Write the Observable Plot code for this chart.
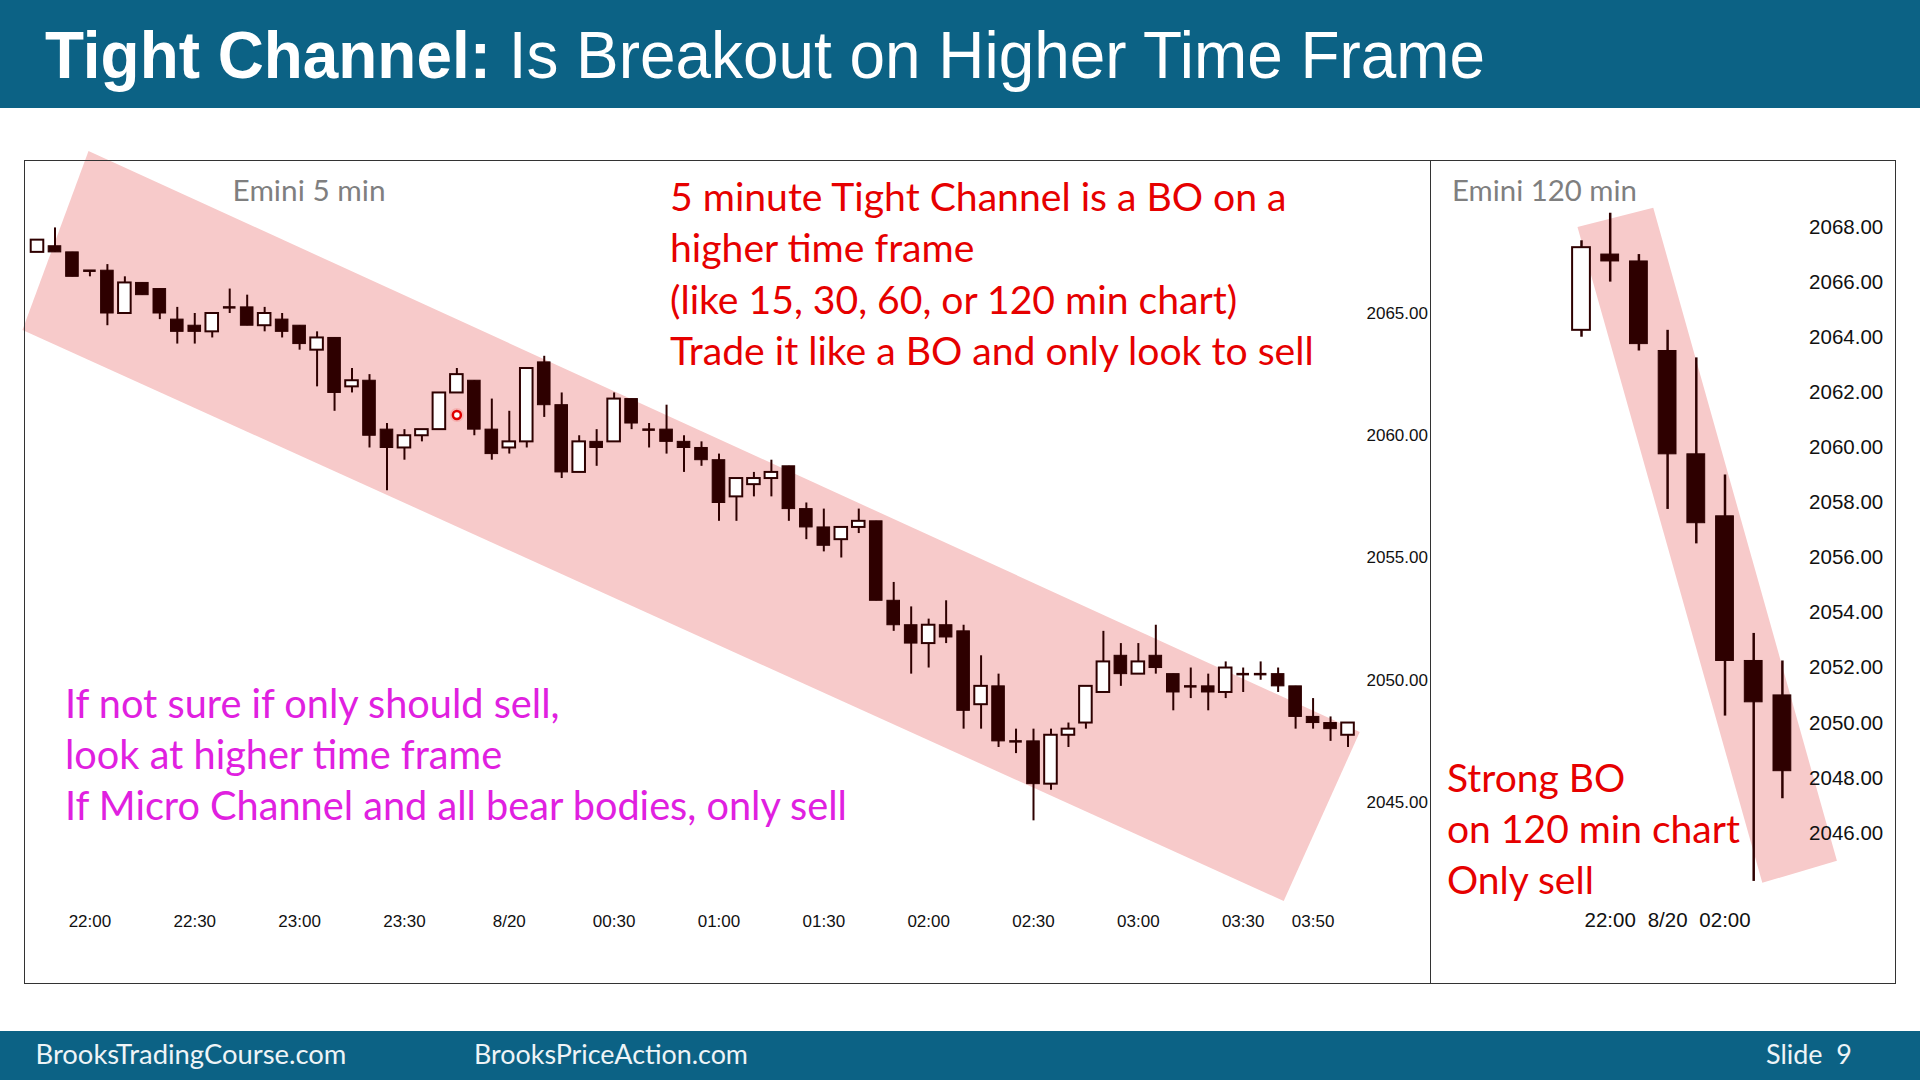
<!DOCTYPE html>
<html>
<head>
<meta charset="utf-8">
<script src="https://cdn.jsdelivr.net/npm/d3@7"></script>
<script src="https://cdn.jsdelivr.net/npm/@observablehq/plot@0.6"></script>
<style>
  html, body { margin:0; padding:0; background:#fff; width:1920px; height:1080px; overflow:hidden; }
  #header { position:absolute; left:0; top:0; width:1920px; height:108px; background:#0c6285; }
  #footer { position:absolute; left:0; top:1031px; width:1920px; height:49px; background:#0c6285; }
  .panel { position:absolute; border:1px solid #333; box-sizing:border-box; }
  #chart5 { position:absolute; left:24px; top:160px; }
  #chart120 { position:absolute; left:1430px; top:160px; }
  #overlay { position:absolute; left:0; top:0; pointer-events:none; }
</style>
</head>
<body>
<div id="header"></div>
<div id="footer"></div>
<div id="chart5"></div>
<div id="chart120"></div>
<div class="panel" style="left:24px; top:160px; width:1407px; height:824px;"></div>
<div class="panel" style="left:1430px; top:160px; width:466px; height:824px;"></div>
<svg id="overlay" width="1920" height="1080"></svg>
<script>
// ---------------- 5-minute chart data (bars 21:45 .. 04:00) ----------------
const open5  = [2067.50,2067.75,2067.50,2066.75,2066.75,2065.00,2066.25,2066.00,2064.75,2064.50,
                2064.25,2065.25,2065.25,2064.50,2064.75,2064.50,2063.50,2064.00,2062.00,2062.25,
                2060.25,2059.50,2060.00,2060.25,2061.75,2062.25,2060.25,2059.50,2059.75,2063.00,
                2061.25,2058.50,2059.75,2059.75,2061.50,2060.25,2060.25,2059.75,2059.50,2059.00,
                2057.50,2058.00,2058.25,2058.75,2057.00,2056.25,2055.75,2056.25,2056.50,2053.25,
                2052.25,2051.50,2052.25,2052.00,2049.00,2049.75,2047.50,2047.50,2045.75,2047.75,
                2048.25,2049.50,2051.00,2050.25,2051.00,2050.25,2049.75,2049.75,2049.50,2050.25,
                2050.25,2050.25,2049.75,2048.50,2048.25,2047.75];
const high5  = [2068.00,2068.50,2067.50,2066.75,2067.00,2066.50,2066.25,2066.00,2065.25,2065.00,
                2065.00,2066.00,2065.75,2065.25,2065.00,2064.50,2064.25,2064.00,2062.75,2062.50,
                2060.50,2060.25,2060.25,2061.75,2062.75,2062.25,2061.50,2061.00,2062.75,2063.25,
                2061.75,2060.00,2060.25,2061.75,2061.50,2060.50,2061.25,2060.00,2059.75,2059.25,
                2058.25,2058.50,2059.00,2058.75,2057.25,2057.00,2056.25,2057.00,2056.50,2054.00,
                2053.00,2052.50,2053.25,2052.25,2051.00,2050.25,2048.00,2048.00,2048.00,2048.25,
                2049.75,2052.00,2051.50,2051.50,2052.25,2050.25,2050.50,2050.25,2050.75,2050.50,
                2050.75,2050.50,2049.75,2049.25,2048.50,2048.25];
const low5   = [2067.50,2067.50,2066.50,2066.50,2064.50,2065.00,2065.75,2064.75,2063.75,2063.75,
                2064.00,2065.00,2064.50,2064.25,2064.00,2063.50,2062.00,2061.00,2061.75,2059.50,
                2057.75,2059.00,2059.75,2060.25,2061.75,2060.00,2059.00,2059.25,2059.50,2060.75,
                2058.25,2058.50,2058.75,2059.75,2060.25,2059.50,2059.25,2058.50,2058.75,2056.50,
                2056.50,2057.50,2057.50,2056.50,2055.75,2055.25,2055.00,2056.00,2053.25,2052.00,
                2050.25,2050.50,2051.50,2048.00,2048.00,2047.25,2047.00,2044.25,2045.50,2047.25,
                2048.00,2049.50,2049.75,2050.25,2050.25,2048.75,2049.25,2048.75,2049.25,2049.50,
                2050.00,2049.50,2048.00,2048.00,2047.50,2047.25];
const close5 = [2068.00,2067.50,2066.50,2066.75,2065.00,2066.25,2065.75,2065.00,2064.25,2064.25,
                2065.00,2065.25,2064.50,2065.00,2064.25,2063.75,2064.00,2061.75,2062.25,2060.00,
                2059.50,2060.00,2060.25,2061.75,2062.50,2060.25,2059.25,2059.75,2062.75,2061.25,
                2058.50,2059.75,2059.50,2061.50,2060.50,2060.25,2059.75,2059.50,2059.00,2057.25,
                2058.25,2058.25,2058.50,2057.00,2056.25,2055.50,2056.25,2056.50,2053.25,2052.25,
                2051.50,2052.25,2051.75,2048.75,2049.75,2047.50,2047.50,2045.75,2047.75,2048.00,
                2049.75,2050.75,2050.25,2050.75,2050.50,2049.50,2049.75,2049.50,2050.50,2050.25,
                2050.25,2049.75,2048.50,2048.25,2048.00,2048.25];
const firstBar5 = -3;                       // 21:45 is three bars before 22:00
const ticks5  = [0, 6, 12, 18, 24, 30, 36, 42, 48, 54, 60, 66, 70];
const labels5 = ["22:00","22:30","23:00","23:30","8/20","00:30","01:00","01:30","02:00","02:30","03:00","03:30","03:50"];
const priceTicks5 = [2045, 2050, 2055, 2060, 2065];
const channel5 = [ // corners of the drawn channel: [bar index, price]
  [-3.86, 2064.33], [-0.08, 2071.65], [72.67, 2047.88], [68.32, 2040.97]
];
const cursor5 = [[21.0, 2060.85]];

// ---------------- 120-minute chart data ----------------
const open120  = [2064.25, 2067.00, 2066.75, 2063.50, 2059.75, 2057.50, 2052.25, 2051.00];
const high120  = [2067.50, 2068.50, 2067.00, 2064.25, 2063.25, 2059.00, 2053.25, 2052.25];
const low120   = [2064.00, 2066.00, 2063.50, 2057.75, 2056.50, 2050.25, 2044.25, 2047.25];
const close120 = [2067.25, 2066.75, 2063.75, 2059.75, 2057.25, 2052.25, 2050.75, 2048.25];
const ticks120  = [1, 3, 5];
const labels120 = ["22:00", "8/20", "02:00"];
const priceTicks120 = [2046, 2048, 2050, 2052, 2054, 2056, 2058, 2060, 2062, 2064, 2066, 2068];
const channel120 = [[-0.14, 2068.0], [2.5, 2068.7], [8.9, 2045.0], [6.3, 2044.2]];

// ---------------- drawing ----------------
const DARK = "#2e0000";
const PINK = "#f7caca";

function bars(o, h, l, c, start) {
  return o.map((v, k) => ({ i: k + start, o: v, h: h[k], l: l[k], c: c[k] }));
}
function candleMarks(data, hw, wickW) {
  const isDoji = d => Math.abs(d.c - d.o) < 0.01;
  return [
    Plot.ruleX(data, { x: "i", y1: "l", y2: "h", stroke: DARK, strokeWidth: wickW }),
    Plot.rect(data, { filter: d => !isDoji(d) && d.c < d.o, x1: d => d.i - hw, x2: d => d.i + hw,
      y1: "c", y2: "o", fill: DARK, stroke: DARK, strokeWidth: 1 }),
    Plot.rect(data, { filter: d => !isDoji(d) && d.c > d.o, x1: d => d.i - hw, x2: d => d.i + hw,
      y1: "o", y2: "c", fill: "#fff", stroke: DARK, strokeWidth: 2 }),
    Plot.ruleY(data, { filter: isDoji, y: "o", x1: d => d.i - hw, x2: d => d.i + hw, stroke: DARK, strokeWidth: 2.5 })
  ];
}

const data5 = bars(open5, high5, low5, close5, firstBar5);
const chart5 = Plot.plot({
  width: 1406, height: 823,
  marginLeft: 13, marginRight: 65, marginTop: 30.75, marginBottom: 58.75,
  x: { domain: [-3, 73] },
  y: { domain: [2040, 2070] },
  style: { overflow: "visible", background: "transparent", fontFamily: "'Liberation Sans', Arial, sans-serif", fontSize: "17px", color: "#111" },
  marks: [
    Plot.line(channel5, { x: d => d[0], y: d => d[1], fill: PINK, stroke: "none" }),
    ...candleMarks(data5, 0.36, 2),
    Plot.dot(cursor5, { x: d => d[0], y: d => d[1], r: 7, fill: "#f4a0a0", stroke: "none", fillOpacity: 0.6 }),
    Plot.dot(cursor5, { x: d => d[0], y: d => d[1], r: 4, stroke: "#e00000", strokeWidth: 2.5, fill: "#fff" }),
    Plot.axisY({ anchor: "right", ticks: priceTicks5, tickFormat: d => d.toFixed(2), tickSize: 0, tickPadding: 1, fontSize: 17, label: null }),
    Plot.axisX({ ticks: ticks5, tickFormat: d => labels5[ticks5.indexOf(d)], tickSize: 0, tickPadding: 0, dy: -9.5, fontSize: 17, label: null })
  ]
});
document.getElementById("chart5").appendChild(chart5);

const data120 = bars(open120, high120, low120, close120, 0);
const chart120 = Plot.plot({
  width: 465, height: 823,
  marginLeft: 7.5, marginRight: 27, marginTop: 11.4, marginBottom: 40.1,
  x: { domain: [-5, 10] },
  y: { domain: [2042, 2070] },
  style: { overflow: "visible", background: "transparent", fontFamily: "'Liberation Sans', Arial, sans-serif", fontSize: "20px", color: "#111" },
  marks: [
    Plot.line(channel120, { x: d => d[0], y: d => d[1], fill: PINK, stroke: "none" }),
    ...candleMarks(data120, 0.31, 2.5),
    Plot.axisY({ anchor: "right", ticks: priceTicks120, tickFormat: d => d.toFixed(2), tickSize: 0, tickPadding: 0, dx: -59.4, fontSize: 20.5, label: null }),
    Plot.axisX({ ticks: ticks120, tickFormat: d => labels120[ticks120.indexOf(d)], tickSize: 0, tickPadding: 0, dy: -30.5, fontSize: 20.5, label: null })
  ]
});
document.getElementById("chart120").appendChild(chart120);

// ---------------- text overlay ----------------
const NS = "http://www.w3.org/2000/svg";
const ov = document.getElementById("overlay");
function txt(str, x, y, opts) {
  const t = document.createElementNS(NS, "text");
  t.setAttribute("x", x); t.setAttribute("y", y);
  t.setAttribute("font-family", opts.family || "Lato, 'Open Sans', sans-serif");
  t.setAttribute("font-size", opts.size || 36);
  t.setAttribute("fill", opts.color || "#000");
  if (opts.weight) t.setAttribute("font-weight", opts.weight);
  t.setAttribute("xml:space", "preserve");
  t.style.whiteSpace = "pre";
  t.textContent = str;
  ov.appendChild(t);
  return t;
}
// fit a block of lines so that its reference line gets the target width
function block(lines, x, baselines, refIndex, targetW, opts) {
  const els = lines.map((s, k) => txt(s, x, baselines[k], opts));
  const w = els[refIndex].getComputedTextLength();
  const size = (opts.size || 36) * targetW / w;
  els.forEach(e => e.setAttribute("font-size", size.toFixed(2)));
  return els;
}

// title
const title = document.createElementNS(NS, "text");
title.setAttribute("x", 45); title.setAttribute("y", 78);
title.setAttribute("font-family", "'Liberation Sans', Arial, sans-serif");
title.setAttribute("font-size", 66);
title.setAttribute("fill", "#fff");
const t1 = document.createElementNS(NS, "tspan"); t1.setAttribute("font-weight", "bold"); t1.textContent = "Tight Channel:";
const t2 = document.createElementNS(NS, "tspan"); t2.textContent = " Is Breakout on Higher Time Frame";
title.appendChild(t1); title.appendChild(t2);
ov.appendChild(title);
title.setAttribute("textLength", 1440);
title.setAttribute("lengthAdjust", "spacingAndGlyphs");

block(["Emini 5 min"], 232.6, [201], 0, 153, { color: "#7f7f7f", size: 27 });
block(["Emini 120 min"], 1452, [201], 0, 185, { color: "#7f7f7f", size: 27 });

block(["5 minute Tight Channel is a BO on a", "higher time frame", "(like 15, 30, 60, or 120 min chart)", "Trade it like a BO and only look to sell"],
      670, [211, 262, 314, 365], 3, 644, { color: "#e60000", size: 36 });

block(["If not sure if only should sell,", "look at higher time frame", "If Micro Channel and all bear bodies, only sell"],
      65, [718, 769, 820], 2, 782, { color: "#e020e0", size: 36 });

block(["Strong BO", "on 120 min chart", "Only sell"], 1447, [792, 843, 894], 1, 293, { color: "#e60000", size: 36 });

block(["BrooksTradingCourse.com"], 35.5, [1064], 0, 311, { color: "#eef4f7", size: 26 });
block(["BrooksPriceAction.com"], 474, [1064], 0, 274, { color: "#eef4f7", size: 26 });
block(["Slide  9"], 1766, [1064], 0, 86, { color: "#eef4f7", size: 26 });
</script>
</body>
</html>
